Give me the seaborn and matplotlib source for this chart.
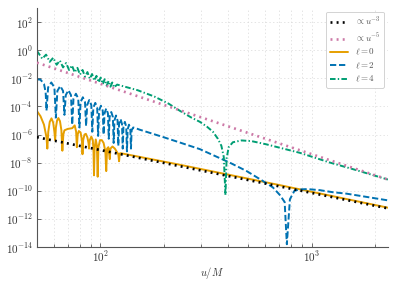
import numpy as np
import matplotlib
matplotlib.use("Agg")
import matplotlib.pyplot as plt
from matplotlib.ticker import FixedLocator, LogLocator, NullLocator, FuncFormatter, NullFormatter
import seaborn as sns

# ── data: u/M and log10 |psi| ─────────────────────────────────
u_guide = [50, 2300]
log_cubic = [-6.19, -11.25]      # ∝ u^-3
log_quintic = [-0.89, -9.2]      # ∝ u^-5

# l = 0
u_l0 = [50, 52, 54, 55.5, 56, 56.6, 57.5, 58.6, 59.7, 60.5,
        61, 61.5, 62.3, 63.2, 64.3, 65.3, 66, 66.7, 67.5, 70,
        73.5, 75.5, 76.7, 77.3, 78, 79, 80.5, 81.7, 82.2, 82.8,
        84, 85.3, 86.7, 87.8, 88.3, 89, 90.5, 92, 92.7, 93.2,
        93.8, 95, 96.2, 97, 97.8, 99.5, 101.5, 103.5, 105.5, 106.5,
        107.5, 109, 110.7, 111.5, 114, 117, 121.5, 122.5, 123.5, 125,
        238, 708, 2300]
log_l0 = [-4.33, -4.7, -5.3, -6.2, -7.0, -5.8, -5.1, -4.85, -5.15, -5.8,
          -6.4, -5.5, -5.0, -4.83, -5.05, -5.7, -7.15, -6.0, -5.7, -5.6,
          -5.55, -5.35, -5.8, -6.9, -6.0, -5.75, -5.85, -6.4, -7.4, -6.4,
          -6.0, -5.95, -6.2, -6.6, -7.0, -6.4, -6.15, -6.4, -7.2, -8.9,
          -7.0, -6.35, -6.8, -9.0, -6.9, -6.4, -6.4, -6.6, -7.2, -8.6,
          -7.0, -6.9, -7.75, -7.0, -6.85, -7.0, -7.4, -7.9, -7.35, -7.33,
          -8.15, -9.6, -11.2]

# l = 2
u_l2 = [50, 52, 54, 55, 55.5, 56.5, 58.5, 60.5, 61.5,
        62.5, 64.5, 66.5, 67.5, 68.5, 70.5, 72.5, 73.5,
        74.5, 76.5, 78.5, 79.5, 80.5, 82.5, 84.5, 85.5,
        86.5, 88.5, 90.5, 91.5, 92.5, 94.5, 96.5, 97.5,
        98.5, 100.5, 102.5, 103.5, 104.5, 106.5, 108.5, 109.5,
        110.5, 112.5, 114.5, 115.5, 116.5, 118.5, 120.5, 121.5,
        122.5, 124.5, 126.5, 127.5, 128.5, 130.5, 132.5, 133.5,
        134.5, 136.5, 138.5, 139.5, 140.5, 143, 147, 153,
        200, 238, 296, 340, 410, 493, 588, 656, 708, 746,
        764, 790, 830, 880, 955, 1090, 1260, 1460, 2300]
log_l2 = [-2.08, -2.1, -2.4, -3.0, -4.3, -2.65, -2.3, -2.65, -4.8,
          -2.9, -2.55, -2.9, -4.6, -3.2, -2.85, -3.2, -5.3,
          -3.45, -3.1, -3.45, -5.5, -3.7, -3.35, -3.7, -5.4,
          -3.9, -3.55, -3.9, -5.8, -4.1, -3.75, -4.1, -6.1,
          -4.3, -3.95, -4.3, -6.0, -4.5, -4.15, -4.5, -6.3,
          -4.75, -4.4, -4.75, -6.6, -5.0, -4.65, -5.0, -6.8,
          -5.25, -4.9, -5.25, -7.0, -5.45, -5.1, -5.45, -7.2,
          -5.65, -5.3, -5.6, -7.0, -5.7, -5.5, -5.55, -5.65,
          -6.2, -6.57, -7.04, -7.45, -8.0, -8.6, -9.3, -9.76, -10.3, -10.8,
          -13.8, -10.6, -10.0, -9.9, -9.88, -9.95, -10.1, -10.2, -10.68]

# l = 4
u_l4 = [50, 53, 55.25, 57.5, 59.75, 62, 64.25, 66.5, 68.75, 71,
        73.25, 75.5, 77.75, 80, 82.25, 84.5, 86.75, 89, 91.25, 93.5,
        95.75, 98, 100.25, 102.5, 104.75, 107, 109.25, 111.5, 113.75, 116,
        120, 150, 180, 210, 240, 270, 296, 320, 341, 360,
        374, 384, 391, 396, 405, 424, 466, 520, 612, 880,
        1220, 1570, 2300]
log_l4 = [-0.05, -0.61, -0.32, -0.83, -0.54, -1.04, -0.74, -1.23, -0.92, -1.41,
          -1.09, -1.58, -1.26, -1.74, -1.41, -1.89, -1.56, -2.03, -1.70, -2.16,
          -1.83, -2.29, -1.95, -2.41, -2.07, -2.53, -2.19, -2.6, -2.30, -2.65,
          -2.45, -2.85, -3.3, -3.8, -4.35, -4.8, -5.1, -5.45, -5.8, -6.3,
          -6.8, -7.6, -10.3, -7.7, -6.9, -6.55, -6.42, -6.47, -6.7, -7.3,
          -7.99, -8.46, -9.2]

y_ticks = [1e-14, 1e-12, 1e-10, 1e-8, 1e-6, 1e-4, 1e-2, 1e0, 1e2]

# ── style ─────────────────────────────────────────────────────
sns.set_theme(style="ticks")
plt.rcParams.update({
    "font.family": ["DejaVu Serif"],
    "mathtext.fontset": "cm",
    "lines.scale_dashes": False,
    "text.color": "#333333",
    "axes.labelcolor": "#333333",
    "xtick.color": "#555555",
    "ytick.color": "#555555",
    "xtick.labelcolor": "#333333",
    "ytick.labelcolor": "#333333",
})

fig = plt.figure(figsize=(3.97, 2.83), dpi=100)
ax = fig.add_axes([0.093, 0.127, 0.884, 0.845])
ax.set_xscale("log")
ax.set_yscale("log")

kw = dict(ax=ax, estimator=None, errorbar=None, sort=False)
sns.lineplot(x=u_guide, y=10 ** np.array(log_cubic), color="black", lw=1.9,
             linestyle=(0, (1.4, 3.0)), label=r"$\propto u^{-3}$", zorder=4, **kw)
sns.lineplot(x=u_guide, y=10 ** np.array(log_quintic), color="#CC79A7", lw=1.9,
             linestyle=(0, (1.4, 3.0)), label=r"$\propto u^{-5}$", zorder=4, **kw)
sns.lineplot(x=u_l0, y=10 ** np.array(log_l0), color="#E69F00", lw=1.4,
             label=r"$\ell=0$", zorder=2, **kw)
sns.lineplot(x=u_l2, y=10 ** np.array(log_l2), color="#0072B2", lw=1.4,
             linestyle=(0, (4.5, 2.0)), label=r"$\ell=2$", zorder=2, **kw)
sns.lineplot(x=u_l4, y=10 ** np.array(log_l4), color="#009E73", lw=1.4,
             linestyle=(0, (4.0, 1.6, 1.0, 1.6)), label=r"$\ell=4$", zorder=2, **kw)

ax.set_xlim(50, 2300)
ax.set_ylim(1e-14, 1e3)

ax.yaxis.set_major_locator(FixedLocator(y_ticks))
ax.yaxis.set_minor_locator(NullLocator())
ax.xaxis.set_major_locator(LogLocator(base=10))
ax.xaxis.set_minor_locator(LogLocator(base=10, subs=np.arange(2, 10)))
ax.xaxis.set_minor_formatter(NullFormatter())
sci = FuncFormatter(lambda v, _: r"$10^{%d}$" % round(np.log10(v)))
ax.xaxis.set_major_formatter(sci)
ax.yaxis.set_major_formatter(sci)
ax.tick_params(which="both", direction="in", labelsize=8, width=0.6, pad=3)
ax.tick_params(axis="x", pad=2)
ax.tick_params(which="major", length=3)
ax.tick_params(which="minor", length=2)

ax.grid(True, which="both", axis="x", color="#d9d9d9", lw=0.5, ls=":")
ax.grid(True, which="major", axis="y", color="#d9d9d9", lw=0.5, ls=":")

sns.despine(ax=ax)
for side in ("left", "bottom"):
    ax.spines[side].set_color("#555555")
    ax.spines[side].set_linewidth(0.8)

ax.set_xlabel(r"$u/M$", fontsize=7.5, labelpad=0.5)
ax.set_ylabel("")

leg = ax.legend(loc="upper right", fontsize=6.5, handlelength=2.0,
                labelspacing=0.35, borderpad=0.4, borderaxespad=0.4,
                frameon=True, fancybox=True, framealpha=1.0, edgecolor="#cccccc")
leg.get_frame().set_linewidth(0.6)
for t in leg.get_texts():
    t.set_color("#555555")

fig.savefig("out.png", dpi=100)
